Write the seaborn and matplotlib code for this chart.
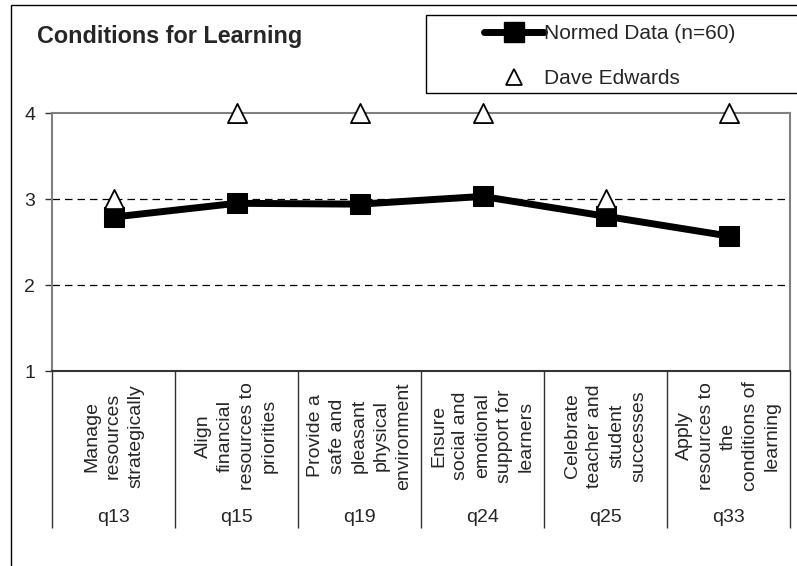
import numpy as np
import pandas as pd
import seaborn as sns
import matplotlib.pyplot as plt
from matplotlib.lines import Line2D
from matplotlib.patches import Rectangle
import matplotlib.transforms as mtransforms

# dados
questoes = ["q13", "q15", "q19", "q24", "q25", "q33"]
descricoes = [
    "Manage\nresources\nstrategically",
    "Align\nfinancial\nresources to\npriorities",
    "Provide a\nsafe and\npleasant\nphysical\nenvironment",
    "Ensure\nsocial and\nemotional\nsupport for\nlearners",
    "Celebrate\nteacher and\nstudent\nsuccesses",
    "Apply\nresources to\nthe\nconditions of\nlearning",
]
normed = [2.79, 2.95, 2.94, 3.03, 2.80, 2.57]
dave = [3, 4, 4, 4, 3, 4]
yticks = [1, 2, 3, 4]

df = pd.DataFrame({"pos": np.arange(len(questoes)), "normed": normed, "dave": dave})

sns.set_style("white")
plt.rcParams["font.family"] = ["Liberation Sans", "DejaVu Sans"]

fig = plt.figure(figsize=(7.97, 5.66), dpi=100)
W, H = 797, 566
ax = fig.add_axes([52 / W, 1 - 371 / H, 738 / W, 258 / H])

sns.lineplot(data=df, x="pos", y="normed", ax=ax, color="black", lw=5,
             marker="s", markersize=14, markeredgecolor="black", zorder=4)
sns.scatterplot(data=df, x="pos", y="dave", ax=ax, marker="^", s=190,
                facecolor="white", edgecolor="black", linewidth=1.3,
                zorder=5, clip_on=False)

ax.set_xlim(-0.5, len(questoes) - 0.5)
ax.set_ylim(1, 4)
ax.set_yticks(yticks)
ax.tick_params(axis="y", direction="out", length=5, width=1, color="#333333",
               labelsize=14, pad=7, left=True)
for y in [2, 3]:
    ax.axhline(y, color="black", lw=0.9, ls=(0, (6, 4)), zorder=1)

# separadores das categorias como ticks longos
ax.set_xticks([])
ax.set_xticks(np.arange(-0.5, len(questoes)), minor=True)
ax.tick_params(axis="x", which="minor", direction="out", length=113,
               width=1, color="#333333", bottom=True)
ax.tick_params(axis="x", which="major", bottom=False, labelbottom=False)

trans = mtransforms.blended_transform_factory(ax.transData, ax.transAxes)
for i, (q, d) in enumerate(zip(questoes, descricoes)):
    ax.text(i, -0.252, d, transform=trans, rotation=90, ha="center",
            va="center", multialignment="center", fontsize=14,
            linespacing=1.38)
    ax.text(i, -0.566, q, transform=trans, ha="center", va="center",
            fontsize=14)

for side in ["left", "top", "right"]:
    ax.spines[side].set_color("#808080")
    ax.spines[side].set_linewidth(1.5)
ax.spines["bottom"].set_color("#333333")
ax.spines["bottom"].set_linewidth(1.5)
ax.set_xlabel("")
ax.set_ylabel("")

# moldura externa
fig.add_artist(Rectangle((11 / W, -0.1), 2, 1.1 - 5 / H, transform=fig.transFigure,
                         fill=False, edgecolor="black", lw=1))
# caixa da legenda
fig.add_artist(Rectangle((426 / W, 1 - 93 / H), 2, 78 / H, transform=fig.transFigure,
                         fill=False, edgecolor="black", lw=1))

fig.text(37 / W, 1 - 36 / H, "Conditions for Learning", fontsize=16.8,
         fontweight="bold", va="center")

handles = [
    Line2D([], [], color="black", lw=5, marker="s", markersize=14),
    Line2D([], [], color="black", lw=0, marker="^", markersize=11,
           markerfacecolor="white", markeredgewidth=1.3),
]
fig.legend(handles, ["Normed Data (n=60)", "Dave Edwards"], frameon=False,
           loc="upper left", bbox_to_anchor=(484 / W, 1 - 24 / H),
           bbox_transform=fig.transFigure, fontsize=15, handlelength=2.9,
           handletextpad=0.0, labelspacing=1.25, borderpad=0, borderaxespad=0)

fig.savefig("out.png", dpi=100)
